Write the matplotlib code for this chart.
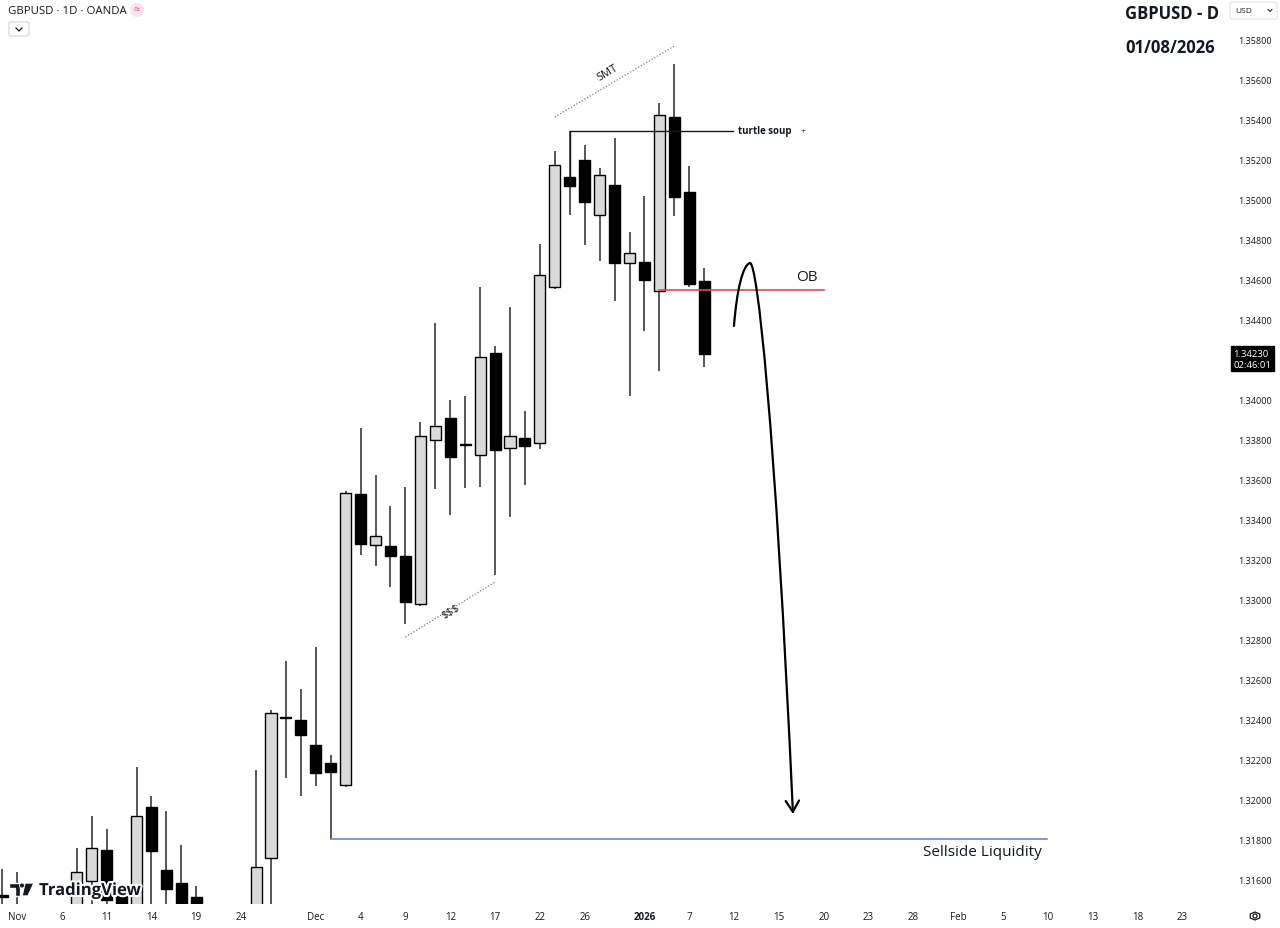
import numpy as np
import matplotlib
matplotlib.use("Agg")
import matplotlib.pyplot as plt
from matplotlib.path import Path
from matplotlib.patches import FancyArrowPatch, FancyBboxPatch, Polygon, Ellipse, RegularPolygon
import matplotlib.patheffects as pe

plt.rcParams['font.family'] = ['Open Sans', 'DejaVu Sans']

# bar index: 0 = Nov 3 2025, trading days only (Dec 25 / Jan 1 skipped)
bar_idx = np.arange(-1, 47)

opens = [1.31525, 1.3140, 1.3135, 1.3020, 1.3050, 1.3140, 1.31595, 1.31750, 1.31520, 1.3135,
         1.31965, 1.31650, 1.31585, 1.31515, 1.3135, 1.3090, 1.3100, 1.3110, 1.31710, 1.32415,
         1.32400, 1.32275, 1.32185, 1.32075, 1.33530, 1.33275, 1.33270, 1.33220, 1.32980, 1.33800,
         1.33910, 1.33780, 1.33725, 1.34235, 1.33760, 1.33810, 1.33785, 1.34565, 1.35115, 1.35200,
         1.34925, 1.35075, 1.34685, 1.34690, 1.34545, 1.35415, 1.35040, 1.34595]
highs = [1.31655, 1.31640, 1.3140, 1.3070, 1.3145, 1.31760, 1.31920, 1.31855, 1.31550, 1.32165,
         1.32020, 1.31945, 1.31775, 1.31570, 1.3145, 1.3120, 1.3130, 1.32150, 1.32450, 1.32695,
         1.32555, 1.32765, 1.32225, 1.33545, 1.33860, 1.33625, 1.33470, 1.33565, 1.33890, 1.34385,
         1.34000, 1.34020, 1.34565, 1.34270, 1.34465, 1.33945, 1.34780, 1.35245, 1.35345, 1.35275,
         1.35160, 1.35310, 1.34840, 1.35020, 1.35485, 1.35680, 1.35170, 1.34660]
lows = [1.3135, 1.3110, 1.3010, 1.3010, 1.3040, 1.3120, 1.3140, 1.3135, 1.3130, 1.3130,
        1.3140, 1.3140, 1.3130, 1.3120, 1.3080, 1.3040, 1.3080, 1.3100, 1.3145, 1.32110,
        1.32020, 1.32070, 1.31805, 1.32065, 1.33225, 1.33170, 1.33065, 1.32880, 1.32970, 1.33555,
        1.33425, 1.33560, 1.33565, 1.33125, 1.33415, 1.33575, 1.33755, 1.34555, 1.34925, 1.34775,
        1.34695, 1.34495, 1.34020, 1.34345, 1.34145, 1.34920, 1.34565, 1.34165]
closes = [1.31515, 1.3135, 1.3020, 1.3050, 1.3140, 1.31640, 1.31760, 1.31500, 1.3140, 1.31920,
          1.31745, 1.31555, 1.3140, 1.3135, 1.3090, 1.3100, 1.3110, 1.31665, 1.32435, 1.32410,
          1.32325, 1.32135, 1.32140, 1.33535, 1.33280, 1.33320, 1.33220, 1.32990, 1.33820, 1.33870,
          1.33715, 1.33775, 1.34215, 1.33750, 1.33820, 1.33770, 1.34625, 1.35175, 1.35070, 1.34990,
          1.35125, 1.34685, 1.34735, 1.34600, 1.35425, 1.35015, 1.34580, 1.34230]

tick_idx = [0, 3, 6, 9, 12, 15, 20, 23, 26, 29, 32, 35, 38, 42, 45, 48, 51, 54, 57, 60, 63, 66, 69, 72, 75, 78]
tick_labels = ["Nov", "6", "11", "14", "19", "24", "Dec", "4", "9", "12", "17", "22", "26", "2026",
               "7", "12", "15", "20", "23", "28", "Feb", "5", "10", "13", "18", "23"]
# 1.34200 is hidden behind the last-price label
price_ticks = [1.316, 1.318, 1.320, 1.322, 1.324, 1.326, 1.328, 1.330, 1.332, 1.334, 1.336,
               1.338, 1.340, 1.344, 1.346, 1.348, 1.350, 1.352, 1.354, 1.356, 1.358]

last_price = 1.34230
ob_level = 1.34550
ssl_level = 1.31805
turtle_high = 1.35345

# drawings (bar index, price)
smt_line = ([36.0, 44.0], [1.35415, 1.35770])
sss_line = ([26.0, 32.0], [1.32815, 1.33090])
curve_x = [47.99, 48.19, 48.59, 49.06, 49.53, 50.74, 51.94]
curve_y = [1.34370, 1.34555, 1.34675, 1.34685, 1.34695, 1.33905, 1.31930]

W, H = 1280, 929
fig = plt.figure(figsize=(W / 100, H / 100), dpi=100)
fig.patch.set_facecolor("white")
ax = fig.add_axes([0, 24 / H, 1228 / W, 905 / H])
ax.set_xlim(-1.138, 81.06)
ax.set_ylim(1.3148, 1.36005)
for s in ax.spines.values():
    s.set_visible(False)

TXT = "#131722"

# candles
o = np.array(opens); c = np.array(closes)
up = c >= o
body_lo = np.minimum(o, c)
body_h = np.abs(c - o)
ax.vlines(bar_idx, lows, highs, color="#2a2a2a", lw=1.1, zorder=2)
ax.bar(bar_idx, body_h, bottom=body_lo, width=0.74,
       color=np.where(up, "#d9d9d9", "#000000"), edgecolor="#000000", lw=1, zorder=3)

# axes ticks
ax.yaxis.tick_right()
ax.set_yticks(price_ticks)
ax.set_yticklabels(["%.5f" % p for p in price_ticks])
ax.tick_params(axis="y", length=0, pad=7, labelsize=6.5, labelcolor=TXT)
ax.set_xticks(tick_idx)
ax.set_xticklabels(tick_labels)
ax.tick_params(axis="x", length=0, pad=5, labelsize=7, labelcolor=TXT)
ax.get_xticklabels()[tick_labels.index("2026")].set_fontweight("bold")

# annotations
ax.plot(smt_line[0], smt_line[1], color="#787b86", ls=(0, (1, 1.5)), lw=0.9, zorder=4)
ax.text(39.56, 1.35640, "SMT", rotation=31, ha="center", va="center", fontsize=8, color=TXT)
ax.plot(sss_line[0], sss_line[1], color="#787b86", ls=(0, (1, 1.5)), lw=0.9, zorder=4)
ax.text(29.05, 1.32945, r"\$\$\$", rotation=31, ha="center", va="center", fontsize=8, color=TXT)

ax.plot([37, 37, 47.93], [closes[38], turtle_high, turtle_high], color=TXT, lw=1, zorder=4)
ax.text(48.25, turtle_high, "turtle soup", ha="left", va="center", fontsize=7,
        fontweight="bold", color=TXT)
ax.text(52.45, turtle_high, "+", ha="left", va="center", fontsize=6.5, color="#555555")

ax.plot([43, 54.0], [ob_level, ob_level], color="#e2455a", lw=1.2, zorder=4)
ax.text(52.9, 1.34615, "OB", ha="center", va="center", fontsize=11, color=TXT)

ax.plot([21, 68.94], [ssl_level, ssl_level], color="#5a78d8", lw=1.1, zorder=4)
ax.text(68.6, 1.31740, "Sellside Liquidity", ha="right", va="center", fontsize=11, color=TXT)

codes = [Path.MOVETO] + [Path.CURVE4] * 6
arrow = FancyArrowPatch(path=Path(list(zip(curve_x, curve_y)), codes),
                        arrowstyle="->,head_length=0.5,head_width=0.3", mutation_scale=16,
                        color="black", lw=1.6, shrinkA=0, shrinkB=0, zorder=5)
ax.add_patch(arrow)

# last price label
ax.annotate("1.34230\n02:46:01", xy=(1.0, last_price), xycoords=("axes fraction", "data"),
            xytext=(4, -3.5), textcoords="offset points", ha="left", va="center",
            fontsize=6.8, color="white", linespacing=1.2, annotation_clip=False,
            bbox=dict(boxstyle="square,pad=0.3", fc="black", ec="black"))


def fx(x):
    return x / W


def fy(y):
    return 1 - y / H


# header texts
fig.text(fx(8), fy(11), "GBPUSD · 1D · OANDA", ha="left", va="center", fontsize=8.2, color=TXT)
fig.add_artist(Ellipse((fx(137), fy(11)), 14 / W, 14 / H, fc="#fde3ea", ec="none"))
fig.text(fx(137), fy(11), "≈", ha="center", va="center", fontsize=8, color="#e0457b")
fig.add_artist(FancyBboxPatch((fx(9), fy(37)), 20 / W, 14 / H,
                              boxstyle="round,pad=0,rounding_size=0.002",
                              fc="white", ec="#d1d4dc", lw=0.8))
fig.add_artist(plt.Line2D([fx(16), fx(19), fx(22)], [fy(29), fy(32), fy(29)], color=TXT, lw=0.9))

fig.text(fx(1125), fy(14), "GBPUSD - D", ha="left", va="center", fontsize=12,
         fontweight="bold", color=TXT)
fig.text(fx(1125), fy(48), "01/08/2026", ha="left", va="center", fontsize=12,
         fontweight="bold", color=TXT)
fig.add_artist(FancyBboxPatch((fx(1230), fy(20)), 47 / W, 17 / H,
                              boxstyle="round,pad=0,rounding_size=0.002",
                              fc="white", ec="#e0e3eb", lw=0.8))
fig.text(fx(1235), fy(11.5), "USD", ha="left", va="center", fontsize=6, color=TXT)
fig.add_artist(plt.Line2D([fx(1268), fx(1270), fx(1272)], [fy(10.5), fy(12.5), fy(10.5)],
                          color=TXT, lw=0.7))

# TradingView watermark
halo = [pe.withStroke(linewidth=3, foreground="white")]
fig.text(fx(39), fy(891), "TradingView", ha="left", va="center", fontsize=12,
         fontweight="bold", color=TXT, path_effects=halo, zorder=10)
t_shape = [(9, 884), (20, 884), (20, 897), (15, 897), (15, 889), (9, 889)]
v_shape = [(25, 884), (34, 884), (28, 897), (22, 897)]
for shp in (t_shape, v_shape):
    fig.add_artist(Polygon([(fx(a), fy(b)) for a, b in shp], closed=True, fc=TXT,
                           ec="white", lw=1, zorder=10))
fig.add_artist(Ellipse((fx(22), fy(886.5)), 5 / W, 5 / H, fc=TXT, ec="white", lw=0.6, zorder=10))

# settings gear
fig.add_artist(RegularPolygon((fx(1255), fy(917)), 6, radius=5.5 / W, orientation=0,
                              fc="none", ec=TXT, lw=0.9))
fig.add_artist(Ellipse((fx(1255), fy(917)), 4 / W, 4 / H, fc="none", ec=TXT, lw=0.9))

fig.savefig("out.png", dpi=100, facecolor="white")
